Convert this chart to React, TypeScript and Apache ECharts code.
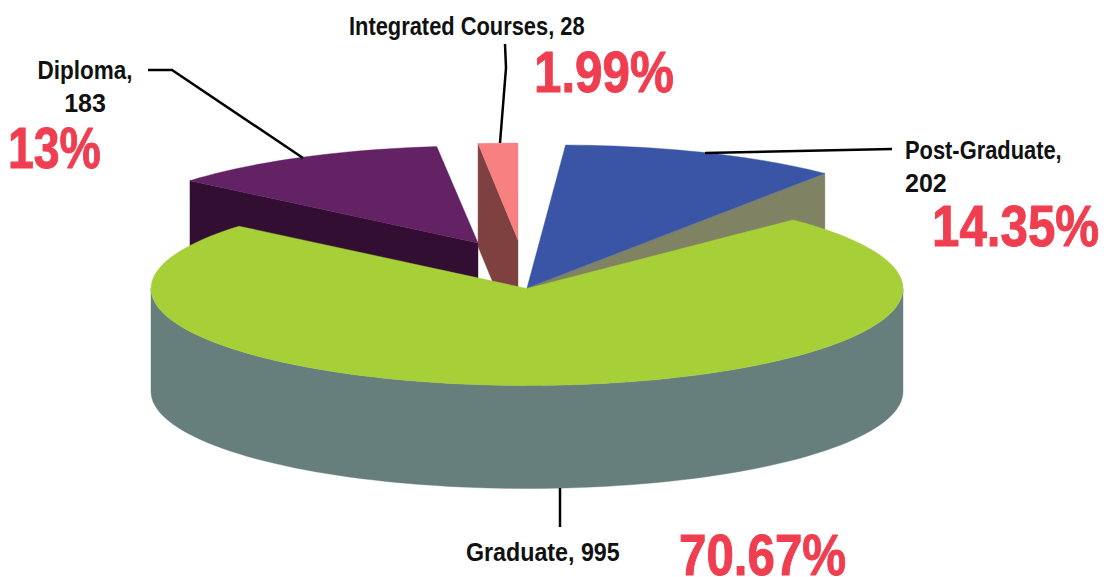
import React, { useEffect, useRef } from "react";
import * as echarts from "echarts";

const categories = ["Graduate", "Diploma", "Integrated Courses", "Post-Graduate"];
const values = [995, 183, 28, 202];
const percentLabels = ["70.67%", "13%", "1.99%", "14.35%"];

const RX = 376;
const RY = 97;
const DEPTH = 103;

// Geometry of each slice's picture (same order as categories).
const sliceGeometry = [
  { cx: 527, cy: 288.5, start: 45, warp: 1.0417, top: "#a6cf38", side: "#667f7d" },
  { cx: 478, cy: 243, start: 140, warp: 0.934, top: "#622263", side: "#320e32", edge: "start" },
  { cx: 518, cy: 240, start: 96.1, warp: 0.852, top: "#f88080", side: "#7f4040", edge: "start" },
  { cx: 559, cy: 242, start: 89, warp: 0.852, top: "#3a55a5", side: "#7f8263", edge: "end", ax: 527, ay: 288 },
];
const paintOrder = [3, 1, 2, 0];

const total = values.reduce((a, b) => a + b, 0);

function rim(g: any, deg: number): number[] {
  const r = (deg * Math.PI) / 180;
  return [g.cx + RX * Math.cos(r), g.cy - RY * Math.sin(r)];
}

function arcPoints(g: any, from: number, to: number): number[][] {
  const n = Math.max(2, Math.ceil(Math.abs(to - from) / 2));
  const pts: number[][] = [];
  for (let i = 0; i <= n; i++) pts.push(rim(g, from + ((to - from) * i) / n));
  return pts;
}

function renderSlice(_params: any, api: any) {
  const idx = api.value(0);
  const value = api.value(1);
  const g: any = sliceGeometry[idx];
  const sweep = (value / total) * 360 * g.warp;
  const end = g.start - sweep;
  const apex = [g.ax ?? g.cx, g.ay ?? g.cy];
  const children: any[] = [];
  const fill = (points: number[][], color: string) => ({
    type: "polygon",
    shape: { points },
    style: { fill: color, stroke: color, lineWidth: 0.4 },
  });
  if (g.edge) {
    const p = rim(g, g.edge === "start" ? g.start : end);
    children.push(
      fill(
        [p, apex, [apex[0], apex[1] + DEPTH], [p[0], p[1] + DEPTH]],
        g.side
      )
    );
  } else {
    const front = arcPoints(g, 0, -180);
    const back = front.map((q) => [q[0], q[1] + DEPTH]).reverse();
    children.push(fill([...front, ...back], g.side));
  }
  children.push(fill([apex, ...arcPoints(g, g.start, end)], g.top));
  return { type: "group", children };
}

const LABEL_FONT = '"Liberation Sans", sans-serif';

function label(text: string, x: number, y: number, align: string, scaleX = 0.875) {
  return {
    type: "text",
    x,
    y,
    z: 10,
    scaleX,
    style: {
      text,
      fill: "#111111",
      fontFamily: LABEL_FONT,
      fontSize: 25,
      fontWeight: "bold",
      textAlign: align,
      textVerticalAlign: "middle",
    },
  };
}

function percent(text: string, x: number, y: number, scaleX = 0.85) {
  return {
    type: "text",
    x,
    y,
    z: 10,
    scaleX,
    style: {
      text,
      fill: "#ef3e4f",
      stroke: "#ef3e4f",
      lineWidth: 1,
      fontFamily: LABEL_FONT,
      fontSize: 58,
      lineHeight: 42,
      fontWeight: "bold",
      textAlign: "left",
      textVerticalAlign: "middle",
    },
  };
}

function leader(points: number[][]) {
  return {
    type: "polyline",
    z: 9,
    shape: { points },
    style: { stroke: "#000000", lineWidth: 2.5, fill: "none" },
  };
}

export default function App() {
  const ref = useRef<HTMLDivElement>(null);
  useEffect(() => {
    const chart = echarts.init(ref.current!, undefined, { renderer: "svg" });
    chart.setOption({
      animation: false,
      backgroundColor: "#ffffff",
      series: [
        {
          type: "custom",
          coordinateSystem: "none",
          renderItem: renderSlice,
          encode: { value: [0, 1] },
          data: paintOrder.map((i) => [i, values[i]]),
          silent: true,
        },
      ],
      graphic: [
        leader([[148, 70], [172, 70], [303, 158]]),
        leader([[505, 44], [506, 68], [500, 143]]),
        leader([[705, 153], [892, 149]]),
        leader([[560, 488], [560, 527]]),
        label(`${categories[1]},`, 85, 70, "center", 0.9),
        label(`${values[1]}`, 85, 103, "center", 1),
        label(`${categories[2]}, ${values[2]}`, 349, 26, "left"),
        label(`${categories[3]},`, 905, 150, "left"),
        label(`${values[3]}`, 905, 183, "left", 1),
        label(`${categories[0]}, ${values[0]}`, 466, 552, "left", 0.93),
        percent(percentLabels[2], 534, 72),
        percent(percentLabels[1], 8, 148, 0.8),
        percent(percentLabels[3], 932, 226),
        percent(percentLabels[0], 679, 555),
      ],
    });
    return () => chart.dispose();
  }, []);
  return (
    <div
      ref={ref}
      style={{ position: "absolute", left: 0, top: 0, width: 1109, height: 577 }}
    />
  );
}
